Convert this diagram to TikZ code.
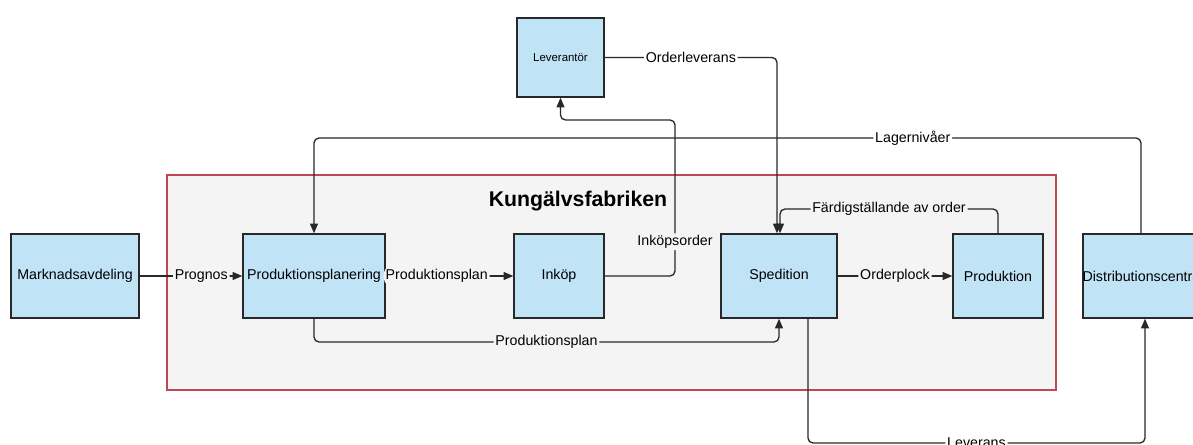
\documentclass[tikz,border=0pt]{standalone}
\usepackage{fontspec}
\setmainfont{Liberation Sans}
\usepackage{tikz}
\usetikzlibrary{arrows.meta, calc}
\definecolor{boxblue}{RGB}{193, 227, 246}
\definecolor{framered}{RGB}{192, 72, 84}
\definecolor{framebg}{RGB}{244, 244, 244}
\definecolor{linegray}{RGB}{40, 40, 40}

\begin{document}
\begin{tikzpicture}[x=0.02cm, y=-0.02cm, >={Triangle[length=5.5pt,width=4.5pt]},
  unit/.style={draw=linegray, line width=0.8pt, fill=boxblue, minimum height=1.68cm,
    inner sep=0pt, font=\fontsize{8.1}{9.7}\selectfont},
  conn/.style={->, line width=0.75pt, draw=linegray, rounded corners=0.1cm},
  lbl/.style={fill=framebg, inner sep=1pt, font=\fontsize{8.1}{9.7}\selectfont},
  lblout/.style={lbl, fill=white}]
  \useasboundingbox (0,0) rectangle (1193,445);
  \clip (0,0) rectangle (1193,445);

  % Factory frame
  \node[draw=framered, line width=0.8pt, fill=framebg, minimum width=17.78cm,
    minimum height=4.3cm] (fabrik) at (611.5,282.5) {};
  \node[font=\fontsize{12.1}{14}\selectfont\bfseries] (titel) at (578,201) {Kungälvsfabriken};

  % Units
  \node[unit, minimum width=2.56cm] (mark) at (75,276) {Marknadsavdeling};
  \node[unit, minimum width=2.84cm] (plan) at (314,276) {Produktionsplanering};
  \node[unit, minimum width=1.8cm] (inkop) at (559,276) {Inköp};
  \node[unit, minimum width=2.32cm] (sped) at (779,276) {Spedition};
  \node[unit, minimum width=1.8cm] (prod) at (998,276) {Produktion};
  \node[unit, minimum width=2.4cm] (dist) at (1143,276) {\makebox[0pt]{Distributionscentral}};
  \node[unit, minimum width=1.74cm, minimum height=1.58cm,
    font=\fontsize{6.5}{8}\selectfont] (lev) at (560.5,57.5) {Leverantör};

  % Straight flows
  \draw[conn] (mark) -- node[lbl, pos=0.6] {Prognos} (plan);
  \draw[conn] (plan) -- node[lbl, pos=0.4] {Produktionsplan} (inkop);
  \draw[conn] (sped) -- node[lbl] {Orderplock} (prod);

  % Purchasing loop via the supplier
  \coordinate (ik) at (675,120);
  \draw[conn] (inkop.east) -| node[lbl, pos=0.61] {Inköpsorder} (ik) -| (lev.south);
  \draw[conn] (lev.east) -| node[lblout, pos=0.25] {Orderleverans} ([xshift=-0.04cm]sped.north);

  % Order completion
  \coordinate (fd) at (998,209);
  \draw[conn] (prod.north) -- (fd) -| node[lbl, pos=0.25] {Färdigställande av order}
    ([xshift=0.02cm]sped.north);

  % Plan to dispatch
  \coordinate (pp) at (314,342);
  \draw[conn] (plan.south) -- (pp) -| node[lbl, pos=0.25] {Produktionsplan} (sped.south);

  % Delivery and stock levels
  \coordinate (lv) at (808,443);
  \draw[conn] (sped.south -| lv) -- (lv) -| node[lblout, pos=0.25] {Leverans}
    ([xshift=0.04cm]dist.south);
  \coordinate (lg) at (1141,138);
  \draw[conn] (dist.north -| lg) -- (lg) -| node[lblout, pos=0.138] {Lagernivåer} (plan.north);
\end{tikzpicture}
\end{document}
